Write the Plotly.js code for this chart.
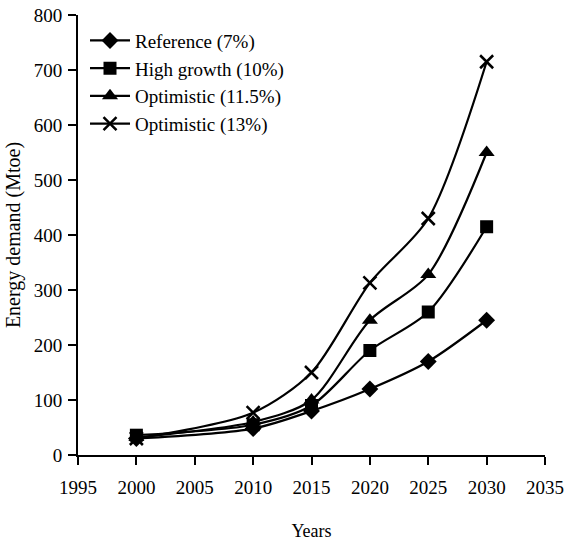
<!DOCTYPE html>
<html>
<head>
<meta charset="utf-8">
<script src="https://cdn.plot.ly/plotly-3.0.1.min.js"></script>
<style>html,body{margin:0;padding:0;background:#fff;}#chart{width:573px;height:542px;}</style>
</head>
<body>
<div id="chart"></div>
<script>
const years = [2000, 2010, 2015, 2020, 2025, 2030];
const seriesNames = ["Reference (7%)", "High growth (10%)", "Optimistic (11.5%)", "Optimistic (13%)"];
const reference = [30, 48, 80, 120, 170, 245];
const highGrowth = [36, 55, 90, 190, 260, 415];
const optimistic115 = [32, 60, 100, 245, 328, 550];
const optimistic13 = [30, 77, 150, 313, 430, 715];
const xTicks = [1995, 2000, 2005, 2010, 2015, 2020, 2025, 2030, 2035];
const yTicks = [0, 100, 200, 300, 400, 500, 600, 700, 800];

const values = [reference, highGrowth, optimistic115, optimistic13];
const symbols = ["diamond", "square", "triangle-up", "x-thin"];
const sizes = [13, 13, 14, 13];

const traces = values.map((v, i) => ({
  x: years, y: v, name: seriesNames[i], type: "scatter", mode: "lines+markers",
  line: {shape: "spline", smoothing: 0.8, color: "#000", width: 2.2},
  marker: {symbol: symbols[i], size: sizes[i], color: "#000", line: {color: "#000", width: symbols[i] === "x-thin" ? 2.5 : 0}}
}));

const fam = "Liberation Serif, Times New Roman, serif";
Plotly.newPlot("chart", traces, {
  width: 573, height: 542,
  margin: {l: 78, r: 28, t: 15, b: 87},
  paper_bgcolor: "#fff", plot_bgcolor: "#fff",
  font: {family: fam, color: "#000"},
  showlegend: true,
  legend: {x: 0.015, y: 0.985, xanchor: "left", yanchor: "top", bgcolor: "rgba(0,0,0,0)",
    font: {family: fam, size: 19, color: "#000"}, tracegroupgap: 0, itemwidth: 40},
  xaxis: {range: [1995, 2035], tickvals: xTicks, ticktext: xTicks.map(String), showgrid: false, zeroline: false,
    showline: true, linecolor: "#000", linewidth: 2, ticks: "outside", ticklen: 8, tickwidth: 2, tickcolor: "#000",
    ticklabelstandoff: 6,
    tickfont: {family: fam, size: 19, color: "#000"},
    title: {text: "Years", font: {family: fam, size: 18, color: "#000"}, standoff: 28}},
  yaxis: {range: [0, 800], tickvals: yTicks, ticktext: yTicks.map(String), showgrid: false, zeroline: false,
    showline: true, linecolor: "#000", linewidth: 2, ticks: "outside", ticklen: 8, tickwidth: 2, tickcolor: "#000",
    ticklabelstandoff: 2,
    tickfont: {family: fam, size: 19, color: "#000"},
    title: {text: "Energy demand (Mtoe)", font: {family: fam, size: 20, color: "#000"}, standoff: 8}}
}, {staticPlot: true});
</script>
</body>
</html>
